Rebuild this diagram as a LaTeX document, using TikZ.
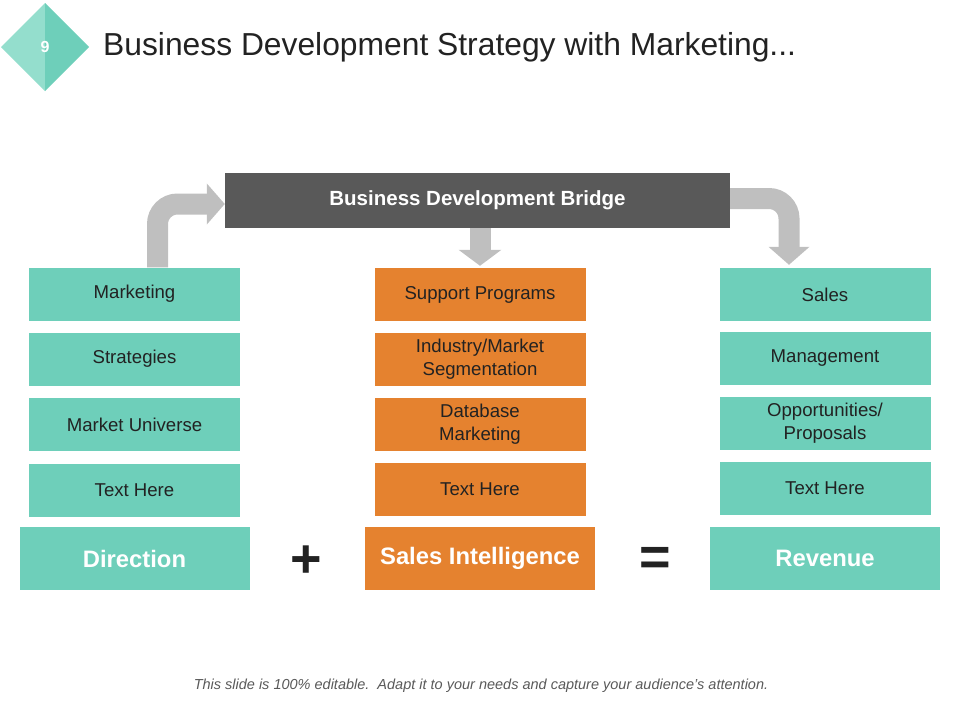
\documentclass[tikz,border=0pt]{standalone}
\usepackage{fontspec}
\setmainfont{Liberation Sans}
\usepackage{xcolor}
\definecolor{bdteal}{RGB}{110,207,186}
\definecolor{bdlight}{RGB}{148,222,205}
\definecolor{bdorange}{RGB}{229,130,47}
\definecolor{bddark}{RGB}{89,89,89}
\definecolor{bdarrowgray}{RGB}{191,191,191}
\definecolor{bdtext}{RGB}{34,34,34}
\usepackage{tikz}
\usetikzlibrary{arrows.meta, positioning}

\begin{document}
\begin{tikzpicture}[x=1pt, y=-1pt,
    itembox/.style={minimum width=211pt, minimum height=53pt, inner sep=0pt,
        align=center, text=bdtext, font=\fontsize{18.6}{23}\selectfont},
    tealbox/.style={itembox, fill=bdteal},
    orangebox/.style={itembox, fill=bdorange},
    sumbox/.style={minimum width=230pt, minimum height=63pt, inner sep=0pt,
        text=white, font=\fontsize{23.8}{28}\selectfont\bfseries},
    bigarrow/.style={draw=bdarrowgray, line width=21pt, rounded corners=20pt,
        -{Triangle[length=18pt, width=40pt]}}]
  \useasboundingbox (0,0) rectangle (960,720);

  % slide number and title
  \fill[bdlight] (1,47) -- (45,3) -- (45,91) -- cycle;
  \fill[bdteal] (45,3) -- (89,47) -- (45,91) -- cycle;
  \node[text=white, font=\fontsize{16}{18}\selectfont\bfseries] (num) at (45,47) {9};
  \node[anchor=west, inner sep=0pt, text=bdtext, font=\fontsize{31.8}{36}\selectfont]
        (title) at (103,47) {Business Development Strategy with Marketing...};

  % bridge
  \node[fill=bddark, minimum width=505pt, minimum height=55pt, inner sep=0pt,
        text=white, font=\fontsize{20.5}{24}\selectfont\bfseries]
        (bridge) at (477.5,200.5) {Business Development Bridge};

  % left column
  \node[tealbox] (m1) at (134.5,294) {Marketing};
  \node[tealbox] (m2) at (134.5,359) {Strategies};
  \node[tealbox] (m3) at (134.5,424.5) {Market Universe};
  \node[tealbox] (m4) at (134.5,490) {Text Here};

  % middle column
  \node[orangebox] (s1) at (480,294.5) {Support Programs};
  \node[orangebox] (s2) at (480,359.5) {Industry/Market\\Segmentation};
  \node[orangebox] (s3) at (480,424.5) {Database\\Marketing};
  \node[orangebox] (s4) at (480,489.5) {Text Here};

  % right column
  \node[tealbox] (r1) at (825,294.5) {Sales};
  \node[tealbox] (r2) at (825,358.5) {Management};
  \node[tealbox] (r3) at (825,423.5) {Opportunities/\\Proposals};
  \node[tealbox] (r4) at (825,488) {Text Here};

  % bottom line
  \node[sumbox, fill=bdteal] (direction) at (134.5,558.5) {Direction};
  \node[sumbox, fill=bdorange] (intel) at (480,558.5) {Sales Intelligence};
  \node[sumbox, fill=bdteal] (revenue) at (825,558.5) {Revenue};
  \node[text=bdtext, font=\fontsize{54}{54}\selectfont\bfseries] (plus) at (306.5,562) {+};
  \node[text=bdtext, font=\fontsize{54}{54}\selectfont\bfseries] (equals) at (655,561) {=};

  % arrows
  \draw[bigarrow] ([xshift=23pt]m1.north) |- ([yshift=-3.5pt]bridge.west);
  \draw[bigarrow, -{Triangle[length=16pt, width=42pt]}]
        (bridge.south -| s1.north) -- ([yshift=2pt]s1.north);
  \draw[bigarrow] ([yshift=2pt]bridge.east) -| ([xshift=-36pt, yshift=3pt]r1.north);

  \node[text=bddark, font=\fontsize{14.5}{16}\selectfont\itshape] (note) at (481,686)
        {This slide is 100\% editable.\ \ Adapt it to your needs and capture your audience's attention.};
\end{tikzpicture}
\end{document}
